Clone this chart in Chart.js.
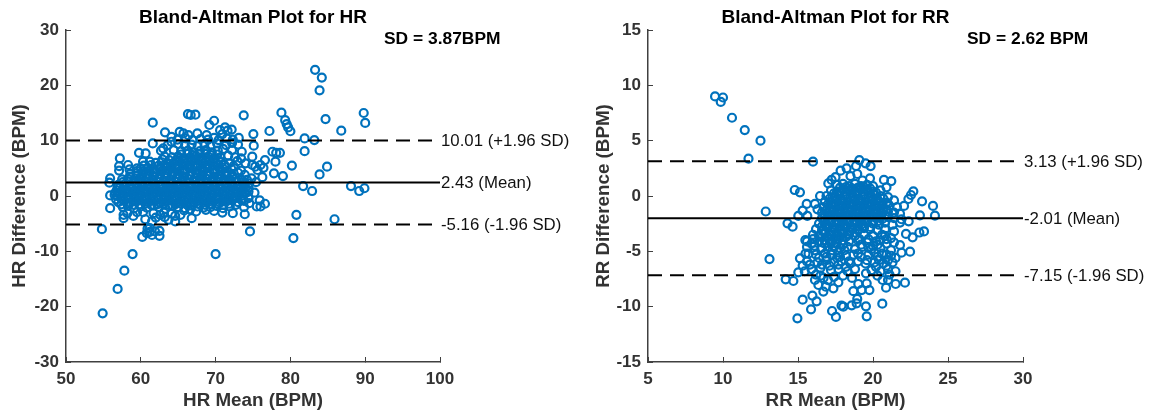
<!DOCTYPE html>
<html><head><meta charset="utf-8">
<script src="https://cdn.jsdelivr.net/npm/chart.js@4"></script>
<style>html,body{margin:0;padding:0;background:#fff;overflow:hidden}
#a,#b{position:absolute;top:0;height:419px}#a{left:0;width:577px}#b{left:577px;width:578px}</style>
</head><body>
<div id="a"><canvas id="ca"></canvas></div><div id="b"><canvas id="cb"></canvas></div>
<script>
const hrTicksX=[50,60,70,80,90,100];
const hrTicksY=[-30,-20,-10,0,10,20,30];
const rrTicksX=[5,10,15,20,25,30];
const rrTicksY=[-15,-10,-5,0,5,10,15];
const hrLimits={upper:10.01,mean:2.43,lower:-5.16};
const rrLimits={upper:3.13,mean:-2.01,lower:-7.15};
const hrLabels=["10.01 (+1.96 SD)","2.43 (Mean)","-5.16 (-1.96 SD)"];
const rrLabels=["3.13 (+1.96 SD)","-2.01 (Mean)","-7.15 (-1.96 SD)"];

const hrOuter=[[83.3,22.8],[84.2,21.4],[83.9,19.1],[89.8,15],[90,13.2],[84.7,13.9],[86.8,11.8],[78.8,15.06],[79.3,13.7],[79.5,13],[79.7,12.4],[80,11.7],[81.9,10.4],[83.2,10.1],[81.9,8.1],[83.9,3.9],[84.9,5.3],[85.9,-4.2],[82.9,.9],[81.7,1.8],[88.1,1.8],[89.2,.9],[89.9,1.4],[80.2,5.5],[54.8,-6],[55.9,-2.2],[58.9,-10.5],[57.8,-13.5],[56.9,-16.8],[54.9,-21.2],[70,-10.5],[74.6,-6.4],[72.3,-3.1],[73.9,-3.3],[80.4,-7.6],[80.8,-3.4],[76,-1.9],[76.6,-1.4],[66.8,-4],[68.7,-2.5],[55.9,3.2],[55.8,2.4],[56.5,.2],
[66.3,14.8],[66.67,14.64],[67.3,14.7],[61.6,13.25],[69.8,13.6],[69.17,12.83],[73.76,14.58],[77.2,11.75],[75.05,11.2],[75.1,9.1],[63.24,11.5],[64.1,10.7],[65.2,11.6],[65.7,11.3],[66.36,11],[67.56,11.3],[68.8,11],[70.6,11.9],[71.26,12.4],[72.15,12],[71.6,11.8],[70.9,11.2],[61.6,9.5],[63,8.6],[64.1,9.8],[59.76,7.8],[60.65,7.7],[57.2,6.8],[57.1,5.4],[57.1,4.6],[58.3,5.6],[58.5,4.8],[59.5,5],[60.3,6.2],[61.2,6.2],[77.6,8],[78.1,7.8],[78.6,7.8],[78,6.2],[76.6,6.5],[76,5.6],[75.3,5.3],[74.9,7.1],[77.8,4.1],[79,3.6],[76.25,3.4],[73,9.3],[73.5,8],[74.9,5.6],[74,5.9],[75.6,4.7],[76.4,5.1],[74.4,-.4],[74.5,-1.3],[73.8,-2],[75.5,-1.9],[75.9,-.8],[75.2,.6],[74.8,3.2],[75.4,2.5],[55.9,.1],
[57.7,-3.4],[57.7,-4],[59,-3.6],[60.3,-2.9],[61.7,-3.1],[62.6,-3.4],[63.7,-4.3],[64.6,-3.6],[64.6,-4.6],[65.8,-2.6],[66.6,-2.4],[61.5,-4.6],[61.2,-5.8],[60.8,-6.7],[60.2,-7.4],[61.5,-7.05],[62.5,-6.3],[62.5,-7.2],[61.9,-6.4],[61.2,-6.5],[60.9,-5.9],[58.2,-3.1],[59.5,-2.9],[63.1,-3],[64.1,-3.2],[65.3,-3.4],[67.4,-2.8],[69.8,-2.7],[70.9,-3],[62,-3.9],[60.6,-4.2],[63.2,-3.8]];

const hrCore=[[57.6,-2],[58.3,-1.8],[59.1,-2.2],[60,-1.9],[60.8,-2.1],[61.7,-1.7],[62.4,-2],[63.3,-2.3],[64.2,-1.8],[65,-2],[65.9,-2.2],[66.7,-1.7],[67.6,-1.9],[68.4,-2.1],[69.3,-2],[70.1,-1.8],[71,-2.2],[71.9,-1.9],[72.7,-1.6],
[57,-1.1],[57.8,-.9],[58.6,-1.2],[59.4,-1],[60.2,-.8],[61,-1.1],[61.8,-.9],[62.6,-1.2],[63.4,-1],[64.2,-.8],[65,-1.1],[65.8,-.9],[66.6,-1.2],[67.4,-1],[68.2,-.8],[69,-1.1],[69.8,-.9],[70.6,-1.2],[71.4,-1],[72.2,-.8],[73,-1.1],[73.8,-.9],
[56.8,0],[57.6,.1],[58.4,-.2],[59.2,0],[60,.2],[60.8,-.1],[61.6,.1],[62.4,-.2],[63.2,0],[64,.2],[64.8,-.1],[65.6,.1],[66.4,-.2],[67.2,0],[68,.2],[68.8,-.1],[69.6,.1],[70.4,-.2],[71.2,0],[72,.2],[72.8,-.1],[73.6,.1],[74.4,.8],
[56.8,1],[57.6,1.1],[58.4,.8],[59.2,1],[60,1.2],[60.8,.9],[61.6,1.1],[62.4,.8],[63.2,1],[64,1.2],[64.8,.9],[65.6,1.1],[66.4,.8],[67.2,1],[68,1.2],[68.8,.9],[69.6,1.1],[70.4,.8],[71.2,1],[72,1.2],[72.8,.9],[73.6,1.1],[74.4,1.5],
[57,2],[57.8,2.1],[58.6,1.8],[59.4,2],[60.2,2.2],[61,1.9],[61.8,2.1],[62.6,1.8],[63.4,2],[64.2,2.2],[65,1.9],[65.8,2.1],[66.6,1.8],[67.4,2],[68.2,2.2],[69,1.9],[69.8,2.1],[70.6,1.8],[71.4,2],[72.2,2.2],[73,1.9],[73.8,2.1],[74.5,2.3],
[57.5,3],[58.3,3.1],[59.1,2.8],[59.9,3],[60.7,3.2],[61.5,2.9],[62.3,3.1],[63.1,2.8],[63.9,3],[64.7,3.2],[65.5,2.9],[66.3,3.1],[67.1,2.8],[67.9,3],[68.7,3.2],[69.5,2.9],[70.3,3.1],[71.1,2.8],[71.9,3],[72.7,3.2],[73.5,2.9],
[58.6,4],[59.4,4.1],[60.2,3.8],[61,4],[61.8,4.2],[62.6,3.9],[63.4,4.1],[64.2,3.8],[65,4],[65.8,4.2],[66.6,3.9],[67.4,4.1],[68.2,3.8],[69,4],[69.8,4.2],[70.6,3.9],[71.4,4.1],[72.2,3.8],[73,4.2],
[60,5],[60.9,5.1],[61.7,4.8],[62.5,5],[63.3,5.2],[64.1,4.9],[64.9,5.1],[65.7,4.8],[66.5,5],[67.3,5.2],[68.1,4.9],[68.9,5.1],[69.7,4.8],[70.5,5],[71.3,5.2],[72.1,4.9],
[62,6],[62.8,6.1],[63.6,5.8],[64.4,6],[65.2,6.2],[66,5.9],[66.8,6.1],[67.6,5.8],[68.4,6],[69.2,6.2],[70,5.9],[70.8,6.1],[71.8,5.9],[72.9,6.3],
[63.2,7.1],[64.2,7],[65,7.1],[65.8,6.8],[66.6,7],[67.4,7.2],[68.2,6.9],[69,7.1],[69.8,6.8],[70.6,7],[71.7,7.3],[72.6,7],[73.4,6.8],
[62.7,8.2],[64.4,8.3],[65.4,8.1],[66.3,8.2],[67,7.9],[67.9,8.1],[68.7,8.3],[69.5,7.9],[70.3,8.2],[71,8.5],[72.2,8.3],
[63.6,9.2],[65,9.4],[65.9,9.1],[66.8,9.3],[67.6,9],[68.5,9.4],[69.3,9.1],[70.2,9.5],[71.4,9.2],[72.2,9.6],
[64.9,10.2],[66,10.4],[66.9,10.1],[68,10.3],[69,10.2],[69.8,10.5],[70.4,10.1],[71.5,10.4],[72.3,10.2],[73.1,10.5]];

const hrFill=[[57.4,-1.5],[58.2,-1.4],[59,-1.6],[59.8,-1.5],[60.6,-1.4],[61.4,-1.6],[62.2,-1.5],[63,-1.4],[63.8,-1.6],[64.6,-1.5],[65.4,-1.4],[66.2,-1.6],[67,-1.5],[67.8,-1.4],[68.6,-1.6],[69.4,-1.5],[70.2,-1.4],[71,-1.6],[71.8,-1.4],
[57.4,-.5],[58.2,-.4],[59,-.6],[59.8,-.5],[60.6,-.4],[61.4,-.6],[62.2,-.5],[63,-.4],[63.8,-.6],[64.6,-.5],[65.4,-.4],[66.2,-.6],[67,-.5],[67.8,-.4],[68.6,-.6],[69.4,-.5],[70.2,-.4],[71,-.6],[71.8,-.5],[72.6,-.4],[73.4,-.6],
[57.2,.5],[58,.6],[58.8,.4],[59.6,.5],[60.4,.6],[61.2,.4],[62,.5],[62.8,.6],[63.6,.4],[64.4,.5],[65.2,.6],[66,.4],[66.8,.5],[67.6,.6],[68.4,.4],[69.2,.5],[70,.6],[70.8,.4],[71.6,.5],[72.4,.6],[73.2,.4],[74,.5],
[57.2,1.5],[58,1.6],[58.8,1.4],[59.6,1.5],[60.4,1.6],[61.2,1.4],[62,1.5],[62.8,1.6],[63.6,1.4],[64.4,1.5],[65.2,1.6],[66,1.4],[66.8,1.5],[67.6,1.6],[68.4,1.4],[69.2,1.5],[70,1.6],[70.8,1.4],[71.6,1.5],[72.4,1.6],[73.2,1.4],[74,1.5],
[57.6,2.5],[58.4,2.6],[59.2,2.4],[60,2.5],[60.8,2.6],[61.6,2.4],[62.4,2.5],[63.2,2.6],[64,2.4],[64.8,2.5],[65.6,2.6],[66.4,2.4],[67.2,2.5],[68,2.6],[68.8,2.4],[69.6,2.5],[70.4,2.6],[71.2,2.4],[72,2.5],[72.8,2.6],[73.6,2.4],
[58.6,3.5],[59.4,3.6],[60.2,3.4],[61,3.5],[61.8,3.6],[62.6,3.4],[63.4,3.5],[64.2,3.6],[65,3.4],[65.8,3.5],[66.6,3.6],[67.4,3.4],[68.2,3.5],[69,3.6],[69.8,3.4],[70.6,3.5],[71.4,3.6],[72.2,3.4],
[60.4,4.5],[61.2,4.6],[62,4.4],[62.8,4.5],[63.6,4.6],[64.4,4.4],[65.2,4.5],[66,4.6],[66.8,4.4],[67.6,4.5],[68.4,4.6],[69.2,4.4],[70,4.5],[70.8,4.6],[71.6,4.4],
[62.4,5.5],[63.2,5.6],[64,5.4],[64.8,5.5],[65.6,5.6],[66.4,5.4],[67.2,5.5],[68,5.6],[68.8,5.4],[69.6,5.5],[70.4,5.6],
[64.8,6.5],[65.6,6.6],[66.4,6.4],[67.2,6.5],[68,6.6],[68.8,6.4],[69.6,6.5],
[65.4,7.5],[66.2,7.6],[67,7.4],[67.8,7.5],[68.6,7.6],[69.4,7.4],[70.2,7.5],[63.8,6.5],[62.9,6.6],[61.4,5.6],[60.4,5.5],[59.5,4.5],[70.4,6.5],[71.2,5.6],[72.4,5.4],[73.4,4.6],[73.9,3.8],[74.2,2.9],[56.9,1.6],[56.6,.6],[56.7,-.6],[74.4,-.2]];

const rrOuter=[[9.47,9],[10,8.9],[9.85,8.5],[10.6,7.07],[11.45,5.96],[12.5,5],[11.7,3.37],[16,3.1],[14.78,.54],[15.13,.33],[12.85,-1.4],[13.1,-5.7],[14.3,-2.47],[14.64,-2.77],[14.18,-7.53],[14.69,-7.68],[14.96,-11.05],
[19.09,3.25],[19.5,2.95],[19.84,2.7],[18.24,2.5],[17.84,2.29],[18.87,2.71],[18.95,1.99],[19.8,1.6],[20.73,1.45],[21.22,1.35],[20.9,.78],[17.24,1.45],[17.02,1.14],[18.5,1.8],[17.5,1.7],[19.3,1.4],[16.47,0],[22.69,.42],[22.53,.09],[22.36,-.27],[23.27,-.48],[24,-.9],[24.13,-1.78],[23.13,-1.75],[22.07,-.9],[22.38,-2.29],[21.9,-2.1],[15.58,-.72],[16.13,-.72],[15.31,-1.33],[15.02,-1.8],[15.62,-1.8],[16.3,-1.2],
[23.4,-3.2],[23.09,-3.3],[22.2,-3.43],[22.64,-3.73],[22.47,-5.03],[21.8,-4.43],[21.9,-5.12],[22.13,-7.83],[21.51,-7.95],[20.87,-8.28],[20.64,-7.59],[19.76,-8.5],[19.58,-7.89],[19.24,-8.5],[18.69,-8.6],[19.02,-7.95],[19.53,-6.99],[20.62,-9.73],[19.53,-9.97],[19.58,-10.87],[18.91,-9.7],[18.58,-9.88],[18.02,-10],[17.53,-10.93],[17.27,-10.39],[16.24,-9.52],[15.96,-9],[15.31,-9.37],[15.87,-10.24],[15.02,-6.9],[15.31,-6.3],[15.13,-5.63],[15.49,-3.98],[17.69,-7.8],[17.36,-8.34],[16.69,-8.64],[16.36,-8.04],[16.13,-7.59],[18.95,-9.3],[17.9,-9.9],[16.85,-8.2],[17,-7.6],[15.7,-5.2],[15.9,-4.3],[15.45,-6.8],[16.5,-7.2]];

const rrCore=[[17.6,1],[18,1.1],[18.4,.9],[18.8,1.1],[19.2,.9],[19.6,1],[20,.9],
[17.2,.5],[17.6,.4],[18,.6],[18.4,.5],[18.8,.4],[19.2,.6],[19.6,.5],[20,.4],[20.5,.5],
[16.9,0],[17.3,-.1],[17.7,.1],[18.1,0],[18.5,-.1],[18.9,.1],[19.3,0],[19.7,-.1],[20.1,.1],[20.5,0],[21,-.1],
[16.8,-.5],[17.2,-.6],[17.6,-.4],[18,-.5],[18.4,-.6],[18.8,-.4],[19.2,-.5],[19.6,-.6],[20,-.4],[20.4,-.5],[20.9,-.6],[21.4,-.4],
[16.7,-1],[17.1,-1.1],[17.5,-.9],[17.9,-1],[18.3,-1.1],[18.7,-.9],[19.1,-1],[19.5,-1.1],[19.9,-.9],[20.3,-1],[20.7,-1.1],[21.1,-.9],[21.6,-1],
[16.6,-1.5],[17,-1.6],[17.4,-1.4],[17.8,-1.5],[18.2,-1.6],[18.6,-1.4],[19,-1.5],[19.4,-1.6],[19.8,-1.4],[20.2,-1.5],[20.6,-1.6],[21,-1.4],[21.4,-1.5],[21.8,-1.6],
[16.6,-2],[17,-2.1],[17.4,-1.9],[17.8,-2],[18.2,-2.1],[18.6,-1.9],[19,-2],[19.4,-2.1],[19.8,-1.9],[20.2,-2],[20.6,-2.1],[21,-1.9],[21.4,-2],[21.8,-2.4],
[16.4,-2.5],[16.8,-2.6],[17.2,-2.4],[17.6,-2.5],[18,-2.6],[18.4,-2.4],[18.8,-2.5],[19.2,-2.6],[19.6,-2.4],[20,-2.5],[20.4,-2.6],[20.8,-2.4],[21.3,-2.6],
[16.2,-3],[16.6,-3.1],[17,-2.9],[17.4,-3],[17.8,-3.1],[18.2,-2.9],[18.6,-3],[19,-3.1],[19.4,-2.9],[19.8,-3],[20.3,-3.1],[20.8,-3],[21.4,-3.2],
[16,-3.5],[16.4,-3.6],[16.8,-3.4],[17.2,-3.5],[17.6,-3.6],[18,-3.4],[18.4,-3.5],[18.8,-3.6],[19.4,-3.5],[20,-3.6],[20.6,-3.5],[21.2,-3.8],
[15.6,-4.1],[16,-3.9],[16.4,-4.1],[16.8,-4],[17.2,-4.1],[17.6,-3.9],[18,-4],[18.4,-4.1],[19,-4],[19.6,-4.2],[20.2,-4.1],[20.9,-4.3],[21.4,-4.2],
[15.6,-4.6],[16.1,-4.5],[16.6,-4.7],[17,-4.6],[17.4,-4.5],[17.8,-4.7],[18.3,-4.6],[18.8,-4.8],[19.3,-4.6],[19.9,-4.8],[20.5,-4.7],[21.2,-4.9],
[15.5,-5.2],[16.2,-5.3],[16.8,-5.2],[17.2,-5.3],[17.7,-5.1],[18.2,-5.4],[18.7,-5.3],[19.2,-5.5],[19.7,-5.3],[20.3,-5.5],[20.9,-5.3],[21.5,-5.6],
[15.6,-5.9],[16.3,-6],[16.9,-5.8],[17.4,-6],[17.9,-5.9],[18.5,-6.1],[19,-5.9],[19.5,-6.1],[20.1,-6],[20.7,-6.1],[21.3,-6],
[15.9,-6.6],[16.5,-6.5],[17.2,-6.7],[17.7,-6.6],[18.3,-6.8],[18.8,-6.6],[19.9,-6.7],[20.5,-6.8],[21,-6.6],[21.5,-6.8],
[16.2,-7.1],[17.4,-7.3],[18,-7.2],[18.6,-7.4],[20.3,-7.2],[21.1,-7.1],[21,-7.6],[16.7,-7.4]];

const rrFill=[[17.8,.75],[18.2,.8],[18.6,.7],[19,.75],[19.4,.8],[19.8,.7],
[17.4,.25],[17.8,.3],[18.2,.2],[18.6,.25],[19,.3],[19.4,.2],[19.8,.25],[20.2,.3],
[17.1,-.25],[17.5,-.2],[17.9,-.3],[18.3,-.25],[18.7,-.2],[19.1,-.3],[19.5,-.25],[19.9,-.2],[20.3,-.3],[20.7,-.25],
[17,-.75],[17.4,-.7],[17.8,-.8],[18.2,-.75],[18.6,-.7],[19,-.8],[19.4,-.75],[19.8,-.7],[20.2,-.8],[20.6,-.75],[21,-.7],
[16.9,-1.25],[17.3,-1.2],[17.7,-1.3],[18.1,-1.25],[18.5,-1.2],[18.9,-1.3],[19.3,-1.25],[19.7,-1.2],[20.1,-1.3],[20.5,-1.25],[20.9,-1.2],
[16.8,-1.75],[17.2,-1.7],[17.6,-1.8],[18,-1.75],[18.4,-1.7],[18.8,-1.8],[19.2,-1.75],[19.6,-1.7],[20,-1.8],[20.4,-1.75],[20.8,-1.7],
[16.8,-2.25],[17.2,-2.2],[17.6,-2.3],[18,-2.25],[18.4,-2.2],[18.8,-2.3],[19.2,-2.25],[19.6,-2.2],[20,-2.3],[20.4,-2.25],
[16.6,-2.75],[17,-2.7],[17.4,-2.8],[17.8,-2.75],[18.2,-2.7],[18.6,-2.8],[19,-2.75],[19.4,-2.7],[19.8,-2.8],
[16.8,-3.25],[17.2,-3.2],[17.6,-3.3],[18,-3.25],[18.4,-3.2],[18.8,-3.3],
[16.6,-3.75],[17,-3.7],[17.4,-3.8],[17.8,-3.75],[18.2,-3.7],
[16.8,-4.3],[17.2,-4.3],[17.6,-4.3],[18,-4.4],
[17.6,-5.6],[19,-5.2],[20,-4.5],[20.8,-3.6],
[16.4,-5.6],[16.9,-5.5],[16.1,-4.9],[16.6,-4.2],[18.1,-4.9],[17.3,-4.9],[17.8,-5.5],[18.4,-5.9],[16.6,-6.2],[17.1,-6.3],[17.7,-6.2],[18.2,-6.4],
[19.2,-4.4],[19.7,-4.7],[20.3,-4.4],[19.1,-3.9],[19.7,-3.9],[20.5,-4],[20.9,-3.9],[20.1,-5.1],[20.6,-5.2],[21.2,-5.4],[19.6,-5.8],[20.4,-5.8],[21,-5.8],[20.9,-6.3],[20.2,-6.4],[15.8,-6.2]];

const BLUE='#0072BD';
const toXY=p=>({x:p[0],y:p[1]});

function limitLine(lim,xMin,xMax,dashed){
  return {type:'scatter',showLine:true,data:[{x:xMin,y:lim},{x:xMax,y:lim}],borderColor:'#000',
    borderWidth:2,borderDash:dashed?[14,8]:[],pointRadius:0,fill:false};
}
const notes={
  id:'notes',
  afterDraw(c,_,o){
    const {ctx,scales:{x,y}}=c;
    ctx.save();
    ctx.fillStyle='#111';ctx.textBaseline='middle';
    ctx.font='16.8px "Liberation Sans"';ctx.textAlign='left';
    o.lims.forEach((v,i)=>ctx.fillText(o.labels[i],x.right+1,y.getPixelForValue(v)+1));
    ctx.fillStyle='#000';
    ctx.font='bold 19px "Liberation Sans"';ctx.textAlign='center';
    ctx.fillText(o.title,(x.left+x.right)/2,17.5);
    ctx.font='bold 17.4px "Liberation Sans"';ctx.textAlign='left';
    ctx.fillText(o.sd,o.sdX,39);
    ctx.restore();
  }
};
function build(id,cfg){
  const s=cfg.limits;
  new Chart(document.getElementById(id),{
    type:'scatter',
    data:{datasets:[
      limitLine(s.upper,cfg.xt[0],cfg.dashEnd,true),
      limitLine(s.mean,cfg.xt[0],cfg.xt[cfg.xt.length-1],false),
      limitLine(s.lower,cfg.xt[0],cfg.dashEnd,true),
      {data:cfg.points.map(toXY),showLine:false,pointStyle:'circle',pointRadius:4,pointBorderWidth:2.2,
       pointBorderColor:BLUE,pointBackgroundColor:'rgba(0,0,0,0)'}
    ]},
    plugins:[notes],
    options:{
      responsive:true,maintainAspectRatio:false,animation:false,
      layout:{padding:{top:30,right:cfg.padR,bottom:0,left:0}},
      plugins:{legend:{display:false},tooltip:{enabled:false},title:{display:false},
        notes:{lims:[s.upper,s.mean,s.lower],labels:cfg.labels,title:cfg.title,sd:cfg.sd,sdX:cfg.sdX}},
      scales:{
        x:{type:'linear',min:cfg.xt[0],max:cfg.xt[cfg.xt.length-1],
          afterBuildTicks(a){a.ticks=cfg.xt.map(v=>({value:v}));},
          afterFit(a){a.height=57;},
          grid:{drawOnChartArea:false,tickLength:-5,tickColor:'#404040',tickWidth:1},
          border:{color:'#404040',width:1.5},
          ticks:{autoSkip:false,maxRotation:0,padding:12,color:'#333',font:{family:'"Liberation Sans"',size:17,weight:'bold'}},
          title:{display:true,text:cfg.xTitle,color:'#333',padding:{top:0,bottom:7},font:{family:'"Liberation Sans"',size:18.8,weight:'bold'}}},
        y:{type:'linear',min:cfg.yt[0],max:cfg.yt[cfg.yt.length-1],
          afterBuildTicks(a){a.ticks=cfg.yt.map(v=>({value:v}));},
          afterFit(a){a.width=cfg.axisW;},
          grid:{drawOnChartArea:false,tickLength:-5,tickColor:'#404040',tickWidth:1},
          border:{color:'#404040',width:1.5},
          ticks:{autoSkip:false,padding:12,color:'#333',font:{family:'"Liberation Sans"',size:17,weight:'bold'}},
          title:{display:true,text:cfg.yTitle,color:'#333',padding:{top:cfg.titlePad,bottom:0},font:{family:'"Liberation Sans"',size:18.8,weight:'bold'}}}
      }
    }
  });
}
build('ca',{limits:hrLimits,labels:hrLabels,points:hrOuter.concat(hrCore,hrFill),xt:hrTicksX,yt:hrTicksY,dashEnd:99.5,
  padR:137,axisW:66,titlePad:9,title:'Bland-Altman Plot for HR',sd:'SD = 3.87BPM',sdX:384,xTitle:'HR Mean (BPM)',yTitle:'HR Difference (BPM)'});
build('cb',{limits:rrLimits,labels:rrLabels,points:rrOuter.concat(rrCore,rrFill),xt:rrTicksX,yt:rrTicksY,dashEnd:29.9,
  padR:132,axisW:71,titlePad:16,title:'Bland-Altman Plot for RR',sd:'SD = 2.62 BPM',sdX:390,xTitle:'RR Mean (BPM)',yTitle:'RR Difference (BPM)'});
</script>
</body></html>
